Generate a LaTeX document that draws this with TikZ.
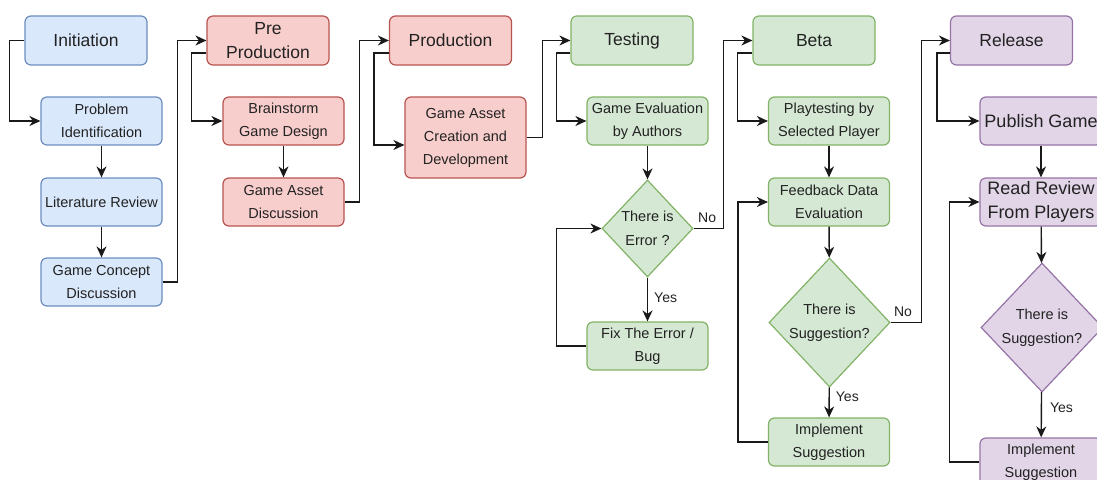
\documentclass[tikz,border=0pt]{standalone}
\usepackage{fontspec}
\setmainfont{Liberation Sans}
\usetikzlibrary{shapes.geometric,arrows.meta,calc}
\definecolor{bfill}{HTML}{DAE8FC}\definecolor{bdraw}{HTML}{6C8EBF}
\definecolor{rfill}{HTML}{F8CECC}\definecolor{rdraw}{HTML}{B85450}
\definecolor{gfill}{HTML}{D5E8D4}\definecolor{gdraw}{HTML}{82B366}
\definecolor{pfill}{HTML}{E1D5E7}\definecolor{pdraw}{HTML}{9673A6}
\definecolor{txt}{HTML}{222222}
\tikzset{
  base/.style={draw, line width=1.2pt, align=center, inner sep=0pt, text=txt},
  stepbox/.style={base, rectangle, rounded corners=6pt, minimum width=121pt, minimum height=48pt,
    font=\fontsize{14.5}{23}\selectfont},
  headbox/.style={base, rectangle, rounded corners=6pt, minimum width=122pt, minimum height=49pt,
    font=\fontsize{17.5}{24}\selectfont},
  bigbox/.style={stepbox, minimum width=122pt, font=\fontsize{18}{24}\selectfont},
  decide/.style={base, diamond, font=\fontsize{14.5}{24}\selectfont},
  blue/.style={fill=bfill, draw=bdraw},
  red/.style={fill=rfill, draw=rdraw},
  green/.style={fill=gfill, draw=gdraw},
  purple/.style={fill=pfill, draw=pdraw},
  arr/.style={line width=1.4pt, draw=black!90, -{Stealth[length=11pt,width=10pt,inset=3.5pt]}},
  lbl/.style={font=\fontsize{14}{16}\selectfont, text=txt, inner sep=0pt}
}
\begin{document}
\begin{tikzpicture}[x=1pt,y=-1pt]
\fill[white] (0,0) rectangle (1097,479);
\useasboundingbox (0,0) rectangle (1097,479);
\clip (0,0) rectangle (1097,479);
% Initiation
\node[headbox,blue] (init) at (86,40.5) {Initiation};
\node[stepbox,blue] (prob) at (101.5,121) {Problem\\Identification};
\node[stepbox,blue] (lit) at (101.5,202) {Literature Review};
\node[stepbox,blue] (gcd) at (101.5,282) {Game Concept\\Discussion};
% Pre production
\node[headbox,red] (pre) at (268,40.5) {Pre\\Production};
\node[stepbox,red] (brain) at (283.5,121) {Brainstorm\\Game Design};
\node[stepbox,red] (gad) at (283.5,202) {Game Asset\\Discussion};
% Production
\node[headbox,red] (prod) at (450.5,40.5) {Production};
\node[stepbox,red,minimum height=81pt] (gacd) at (465.5,137.5) {Game Asset\\Creation and\\Development};
% Testing
\node[headbox,green] (test) at (632,40.5) {Testing};
\node[stepbox,green] (geval) at (647.5,121) {Game Evaluation\\by Authors};
\node[decide,green,minimum width=91pt,minimum height=97pt] (err) at (647.5,228.5) {There is\\Error ?};
\node[stepbox,green] (fix) at (647.5,346) {Fix The Error /\\Bug};
% Beta
\node[headbox,green] (beta) at (814,40.5) {Beta};
\node[stepbox,green] (play) at (829,121) {Playtesting by\\Selected Player};
\node[stepbox,green] (feed) at (829,202) {Feedback Data\\Evaluation};
\node[decide,green,minimum width=121pt,minimum height=129pt] (sug) at (829.5,322.5) {There is\\Suggestion?};
\node[stepbox,green] (impl) at (829,442) {Implement\\Suggestion};
% Release
\node[headbox,purple] (rel) at (1011.5,40.5) {Release};
\node[bigbox,purple] (pub) at (1041,121) {Publish Game};
\node[bigbox,purple] (read) at (1041,202) {Read Review\\From Players};
\node[decide,purple,minimum width=122pt,minimum height=129pt] (sug2) at (1042,327.5) {There is\\Suggestion?};
\node[stepbox,purple,minimum width=122pt] (impl2) at (1041,462) {Implement\\Suggestion};
% connectors
\draw[arr] (init.west) -- ++(-15,0) |- (prob.west);
\draw[arr] (prob) -- (lit);
\draw[arr] (lit) -- (gcd);
\draw[arr] (gcd.east) -- ++(15,0) |- (pre.west);
\draw[arr] ($(pre.west)+(0,12.5)$) -- ++(-15,0) |- (brain.west);
\draw[arr] (brain) -- (gad);
\draw[arr] (gad.east) -- ++(15,0) |- (prod.west);
\coordinate (gacdin) at ($(gacd.west)+(0,7.5)$);
\draw[arr] ($(prod.west)+(0,12.5)$) -- ++(-15,0) |- (gacdin);
\draw[arr] (gacd.east) -- ++(16,0) |- (test.west);
\draw[arr] ($(test.west)+(0,12.5)$) -- ++(-14,0) |- (geval.west);
\draw[arr] (geval) -- (err);
\draw[arr] (err) -- (fix) node[lbl, pos=0.45, right=6pt] (yes1) {Yes};
\draw[arr] (fix.west) -- ++(-30,0) |- (err.west);
\draw[arr] (err.east) -- ++(30,0) node[lbl, pos=0.45, above=5pt] (no1) {No} |- (beta.west);
\draw[arr] ($(beta.west)+(0,12.5)$) -- ++(-15,0) |- (play.west);
\draw[arr] (play) -- (feed);
\draw[arr] (feed) -- (sug);
\draw[arr] (sug) -- (impl) node[lbl, pos=0.3, right=6pt] (yes2) {Yes};
\draw[arr] (impl.west) -- ++(-30,0) |- (feed.west);
\draw[arr] (sug.east) -- ++(31,0) node[lbl, pos=0.4, above=5pt] (no2) {No} |- (rel.west);
\draw[arr] ($(rel.west)+(0,12.5)$) -- ++(-13,0) |- (pub.west);
\draw[arr] (pub) -- (read);
\draw[arr] (read) -- (sug2);
\draw[arr] (sug2) -- (impl2) node[lbl, pos=0.35, right=8pt] (yes3) {Yes};
\draw[arr] (impl2.west) -- ++(-30,0) |- (read.west);
\end{tikzpicture}
\end{document}
